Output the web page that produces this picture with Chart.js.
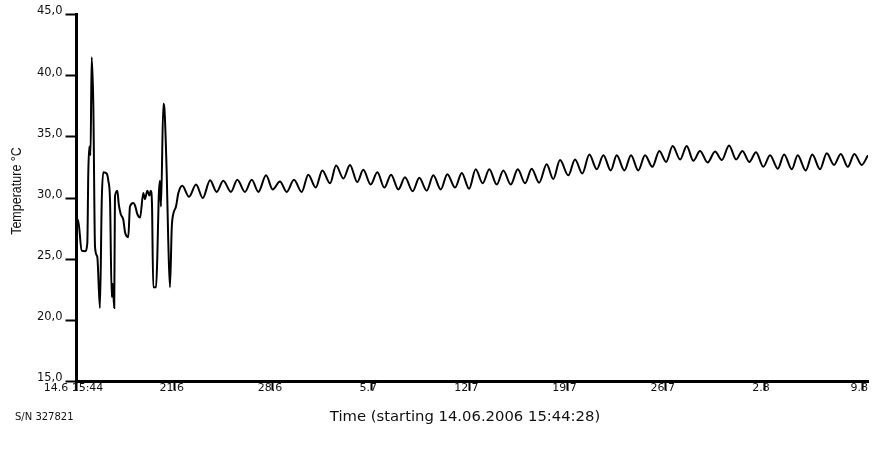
<!DOCTYPE html>
<html>
<head>
<meta charset="utf-8">
<title>Temperature log</title>
<script src="https://cdn.jsdelivr.net/npm/chart.js@4.4.1/dist/chart.umd.min.js"></script>
<style>
  html, body { margin: 0; padding: 0; background: #fff; }
  #wrap { width: 873px; height: 461px; }
</style>
</head>
<body>
<div id="wrap"><canvas id="tempChart" width="873" height="461"></canvas></div>
<script>
// ─── Logger data ─────────────────────────────────────────────────────────────
// Elapsed time since logging started (days) and the logged temperature (°C).
const ELAPSED_DAYS = [
  0.00, 0.11, 0.37, 0.61, 0.77, 0.84, 0.91, 1.00, 1.08, 1.20,
  1.32, 1.48, 1.67, 1.80, 1.91, 2.15, 2.27, 2.39, 2.51, 2.58,
  2.69, 2.74, 2.91, 3.01, 3.15, 3.34, 3.46, 3.69, 3.81, 4.05,
  4.17, 4.33, 4.53, 4.76, 4.88, 5.05, 5.19, 5.29, 5.38, 5.47,
  5.67, 5.76, 5.86, 5.95, 6.02, 6.19, 6.26, 6.43, 6.54, 6.66,
  6.79, 6.90, 7.09, 7.26, 7.54,
  8.02, 8.52, 9.00, 9.52, 9.99, 10.46, 11.01, 11.46, 12.01, 12.49,
  12.96, 13.51, 13.98, 14.50, 14.98, 15.50, 16.05, 16.52, 17.05, 17.52,
  18.07, 18.50, 19.02, 19.49, 20.01, 20.44, 20.97, 21.44, 21.94, 22.42,
  22.94, 23.41, 23.96, 24.43, 24.96, 25.43, 25.96, 26.43, 26.98, 27.46,
  27.98, 28.45, 28.95, 29.42, 29.95, 30.42, 30.95, 31.45, 31.97, 32.44,
  32.97, 33.51, 33.98, 34.46, 35.05, 35.53, 36.05, 36.55, 37.08, 37.55,
  38.08, 38.50, 39.05, 39.52, 40.04, 40.52, 41.04, 41.54, 42.02, 42.49,
  43.02, 43.49, 43.96, 44.44, 44.98, 45.51, 45.99, 46.51, 47.01, 47.46,
  47.95, 48.43, 48.95, 49.43, 49.98, 50.43, 50.98, 51.40, 51.97, 52.44,
  52.99, 53.47, 53.99, 54.47, 54.97, 55.44, 55.96, 56.41
];

const TEMPERATURE_C = [
  27.9, 28.2, 25.7, 25.65, 26.3, 32.0, 34.2, 33.5, 41.5, 37.5,
  26.0, 25.2, 21.0, 29.8, 32.1, 32.0, 31.4, 29.8, 21.9, 23.0,
  21.0, 30.1, 30.6, 29.5, 28.7, 28.2, 27.2, 26.8, 29.3, 29.6,
  29.4, 28.7, 28.4, 30.4, 29.9, 30.6, 30.2, 30.6, 29.5, 22.7,
  22.7, 25.2, 30.1, 31.4, 29.3, 37.7, 37.4, 32.0, 26.5, 22.7,
  27.6, 28.7, 29.3, 30.4, 31.0,
  30.1, 31.1, 30.0, 31.45, 30.5, 31.4, 30.5, 31.5, 30.5, 31.5,
  30.5, 31.85, 30.7, 31.35, 30.5, 31.5, 30.5, 31.9, 30.85, 32.25,
  31.2, 32.65, 31.6, 32.7, 31.3, 32.3, 31.1, 32.1, 30.85, 31.9,
  30.7, 31.7, 30.55, 31.65, 30.6, 31.85, 30.7, 31.95, 30.85, 32.05,
  30.75, 32.35, 31.2, 32.35, 31.1, 32.25, 31.1, 32.35, 31.2, 32.4,
  31.25, 32.75, 31.55, 33.1, 31.85, 33.15, 32.0, 33.55, 32.35, 33.5,
  32.25, 33.5, 32.25, 33.5, 32.25, 33.5, 32.55, 33.85, 32.95, 34.25,
  33.15, 34.25, 33.05, 33.85, 32.9, 33.8, 33.1, 34.3, 33.15, 33.85,
  32.95, 33.75, 32.55, 33.5, 32.4, 33.55, 32.35, 33.5, 32.25, 33.55,
  32.35, 33.65, 32.7, 33.6, 32.55, 33.6, 32.7, 33.5
];

// One tick per week, counted from the start of logging.
const DATE_TICKS = ["14.6 15:44", "21.6", "28.6", "5.7", "12.7", "19.7", "26.7", "2.8", "9.8"];
const TEMP_TICKS = [15, 20, 25, 30, 35, 40, 45];

const TEMP_AXIS_TITLE = "Temperature °C";
const TIME_AXIS_TITLE = "Time (starting 14.06.2006 15:44:28)";
const SERIAL_LABEL = "S/N 327821";

const TICK_DAYS = 7;
const LAST_DAY = 56.41;
const TEXT_COLOR = "#111";

// Axis captions and the serial number are plain canvas text below/left of the plot.
const captionPlugin = {
    id: "captions",
    afterDraw(chart) {
        const ctx = chart.ctx;
        ctx.save();
        ctx.fillStyle = TEXT_COLOR;
        ctx.textBaseline = "middle";

        ctx.font = '10px "DejaVu Sans"';
        ctx.textAlign = "left";
        ctx.fillText(SERIAL_LABEL, 15, 417);

        ctx.font = '14.8px "DejaVu Sans"';
        ctx.textAlign = "center";
        ctx.fillText(TIME_AXIS_TITLE, 465, 417);

        // vertical title, glyphs a little wider across the page like the tick labels
        ctx.translate(17, 191);
        ctx.scale(1.2, 1);
        ctx.rotate(-Math.PI / 2);
        ctx.font = '12.5px "Liberation Sans"';
        ctx.fillText(TEMP_AXIS_TITLE, 0, 0);
        ctx.restore();
    },
};

new Chart(document.getElementById("tempChart"), {
    type: "line",
    data: {
        datasets: [{
            data: ELAPSED_DAYS.map((d, i) => ({ x: d, y: TEMPERATURE_C[i] })),
            borderColor: "#000",
            borderWidth: 2,
            pointRadius: 0,
            cubicInterpolationMode: "monotone",
            fill: false,
        }],
    },
    options: {
        responsive: false,
        animation: false,
        events: [],
        layout: { padding: { top: 14.5, right: 5, left: 0, bottom: 0 } },
        plugins: {
            legend: { display: false },
            tooltip: { enabled: false },
        },
        scales: {
            x: {
                type: "linear",
                min: 0,
                max: LAST_DAY,
                afterBuildTicks: (scale) => {
                    scale.ticks = DATE_TICKS.map((_, i) => ({ value: i * TICK_DAYS }));
                },
                afterFit: (scale) => {
                    scale.height = 79.5;
                    scale.paddingLeft = 0;
                    scale.paddingRight = 0;
                },
                border: { color: "#000", width: 3 },
                grid: {
                    drawOnChartArea: false,
                    tickLength: 9,
                    tickWidth: 2,
                    tickColor: "#000",
                },
                ticks: {
                    autoSkip: false,
                    maxRotation: 0,
                    padding: -9,
                    labelOffset: -3,
                    color: TEXT_COLOR,
                    font: { family: "DejaVu Sans", size: 11 },
                    callback: (value, index) => DATE_TICKS[index],
                },
            },
            y: {
                min: 15,
                max: 45,
                afterBuildTicks: (scale) => {
                    scale.ticks = TEMP_TICKS.map((v) => ({ value: v }));
                },
                afterFit: (scale) => {
                    scale.width = 76.5;
                },
                border: { color: "#000", width: 3 },
                grid: {
                    drawOnChartArea: false,
                    tickLength: 11,
                    tickWidth: 2,
                    tickColor: "#000",
                },
                ticks: {
                    autoSkip: false,
                    padding: 3,
                    labelOffset: -3,
                    color: TEXT_COLOR,
                    font: { family: "DejaVu Sans", size: 11.5 },
                    callback: (value) => value.toFixed(1).replace(".", ","),
                },
            },
        },
    },
    plugins: [captionPlugin],
});
</script>
</body>
</html>
